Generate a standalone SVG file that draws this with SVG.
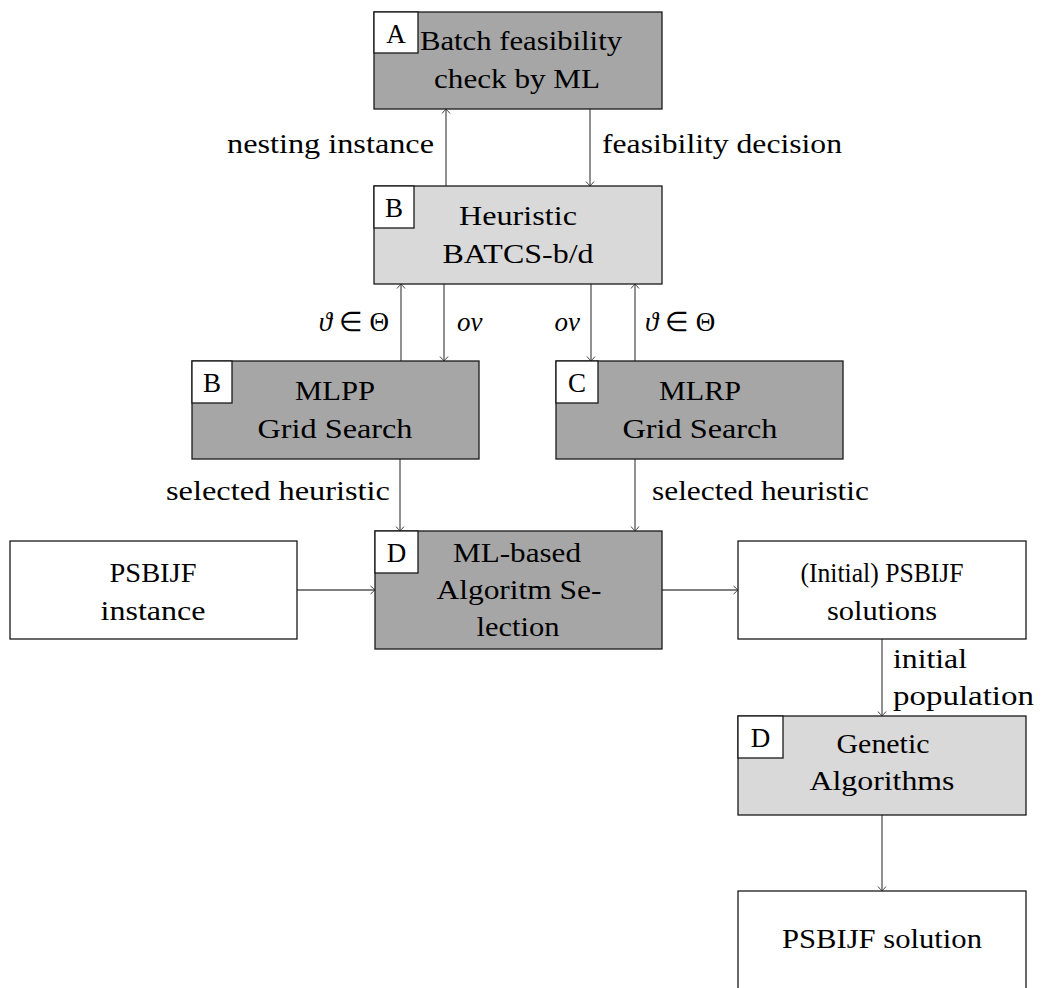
<svg xmlns="http://www.w3.org/2000/svg" width="1041" height="988" viewBox="0 0 1041 988">
<style>
.box{stroke:#1a1a1a;stroke-width:1.3}
.dark{fill:#a6a6a6}
.light{fill:#d9d9d9}
.white{fill:#ffffff}
.tag{fill:#ffffff;stroke:#1a1a1a;stroke-width:1.3}
text{font-family:"Liberation Serif","Times New Roman",serif;font-size:27px;fill:#000}
.c{text-anchor:middle}
.e{text-anchor:end}
.m{font-style:italic}
.conn{stroke:#555;stroke-width:1.3;fill:none;marker-end:url(#arr)}
</style>
<defs>
<marker id="arr" viewBox="-6 -6 8 12" markerWidth="8" markerHeight="12" refX="0" refY="0" orient="auto" markerUnits="userSpaceOnUse">
<path d="M-4.5,-4 Q-1.2,-1.2 0,0 Q-1.2,1.2 -4.5,4" fill="none" stroke="#444" stroke-width="1"/>
</marker>
</defs>
<rect width="1041" height="988" fill="#ffffff"/>

<g id="connectors">
<line class="conn" x1="446" y1="186" x2="446" y2="109"/>
<line class="conn" x1="590" y1="109" x2="590" y2="186"/>
<line class="conn" x1="401" y1="361" x2="401" y2="284"/>
<line class="conn" x1="444" y1="284" x2="444" y2="361"/>
<line class="conn" x1="591" y1="284" x2="591" y2="361"/>
<line class="conn" x1="635" y1="361" x2="635" y2="284"/>
<line class="conn" x1="400" y1="459" x2="400" y2="531"/>
<line class="conn" x1="635" y1="459" x2="635" y2="531"/>
<line class="conn" x1="297" y1="590" x2="375" y2="590"/>
<line class="conn" x1="662" y1="590" x2="738" y2="590"/>
<line class="conn" x1="882" y1="639" x2="882" y2="716"/>
<line class="conn" x1="882" y1="815" x2="882" y2="891"/>
<text class="e" x="434" y="153" textLength="207" lengthAdjust="spacingAndGlyphs">nesting instance</text>
<text x="602" y="153" textLength="240" lengthAdjust="spacingAndGlyphs">feasibility decision</text>
<text class="e" x="389" y="331"><tspan class="m">ϑ</tspan> ∈ Θ</text>
<text class="m" x="457" y="331">ov</text>
<text class="m e" x="580" y="331">ov</text>
<text x="645" y="331"><tspan class="m">ϑ</tspan> ∈ Θ</text>
<text class="e" x="390" y="500" textLength="224" lengthAdjust="spacingAndGlyphs">selected heuristic</text>
<text x="652" y="500" textLength="217" lengthAdjust="spacingAndGlyphs">selected heuristic</text>
<text x="893" y="668" textLength="74" lengthAdjust="spacingAndGlyphs">initial</text>
<text x="893" y="705" textLength="141" lengthAdjust="spacingAndGlyphs">population</text>
</g>

<g id="nodeA">
<rect class="box dark" x="374" y="12" width="288" height="97"/>
<rect class="tag" x="374" y="12" width="44" height="41"/>
<text class="c" x="396" y="43">A</text>
<text class="c" x="521" y="50" textLength="202" lengthAdjust="spacingAndGlyphs">Batch feasibility</text>
<text class="c" x="517" y="88" textLength="166" lengthAdjust="spacingAndGlyphs">check by ML</text>
</g>

<g id="nodeB">
<rect class="box light" x="374" y="186" width="288" height="98"/>
<rect class="tag" x="374" y="186" width="40" height="42"/>
<text class="c" x="394" y="217">B</text>
<text class="c" x="518" y="225" textLength="118" lengthAdjust="spacingAndGlyphs">Heuristic</text>
<text class="c" x="518" y="263" textLength="151" lengthAdjust="spacingAndGlyphs">BATCS-b/d</text>
</g>

<g id="nodeMLPP">
<rect class="box dark" x="192" y="361" width="287" height="98"/>
<rect class="tag" x="192" y="361" width="40" height="42"/>
<text class="c" x="212" y="392">B</text>
<text class="c" x="335" y="400" textLength="80" lengthAdjust="spacingAndGlyphs">MLPP</text>
<text class="c" x="335" y="438" textLength="155" lengthAdjust="spacingAndGlyphs">Grid Search</text>
</g>

<g id="nodeMLRP">
<rect class="box dark" x="556" y="361" width="287" height="98"/>
<rect class="tag" x="556" y="361" width="42" height="42"/>
<text class="c" x="577" y="392">C</text>
<text class="c" x="700" y="400" textLength="82" lengthAdjust="spacingAndGlyphs">MLRP</text>
<text class="c" x="700" y="438" textLength="155" lengthAdjust="spacingAndGlyphs">Grid Search</text>
</g>

<g id="nodeD">
<rect class="box dark" x="375" y="531" width="287" height="118"/>
<rect class="tag" x="375" y="531" width="43" height="42"/>
<text class="c" x="396.5" y="562">D</text>
<text class="c" x="517" y="562" textLength="128" lengthAdjust="spacingAndGlyphs">ML-based</text>
<text class="c" x="519" y="599" textLength="165" lengthAdjust="spacingAndGlyphs">Algoritm Se-</text>
<text class="c" x="518" y="636" textLength="83" lengthAdjust="spacingAndGlyphs">lection</text>
</g>

<g id="nodeInstance">
<rect class="box white" x="10" y="541" width="287" height="98"/>
<text class="c" x="153" y="582" textLength="87" lengthAdjust="spacingAndGlyphs">PSBIJF</text>
<text class="c" x="153" y="620" textLength="105" lengthAdjust="spacingAndGlyphs">instance</text>
</g>

<g id="nodeInitial">
<rect class="box white" x="738" y="541" width="288" height="98"/>
<text class="c" x="882" y="582" textLength="163" lengthAdjust="spacingAndGlyphs">(Initial) PSBIJF</text>
<text class="c" x="882" y="620" textLength="110" lengthAdjust="spacingAndGlyphs">solutions</text>
</g>

<g id="nodeGenetic">
<rect class="box light" x="738" y="716" width="288" height="99"/>
<rect class="tag" x="738" y="716" width="45" height="42"/>
<text class="c" x="760.5" y="747">D</text>
<text class="c" x="883" y="753" textLength="93" lengthAdjust="spacingAndGlyphs">Genetic</text>
<text class="c" x="882" y="790" textLength="145" lengthAdjust="spacingAndGlyphs">Algorithms</text>
</g>

<g id="nodeSolution">
<rect class="box white" x="738" y="891" width="288" height="110"/>
<text class="c" x="882" y="948" textLength="200" lengthAdjust="spacingAndGlyphs">PSBIJF solution</text>
</g>
</svg>
